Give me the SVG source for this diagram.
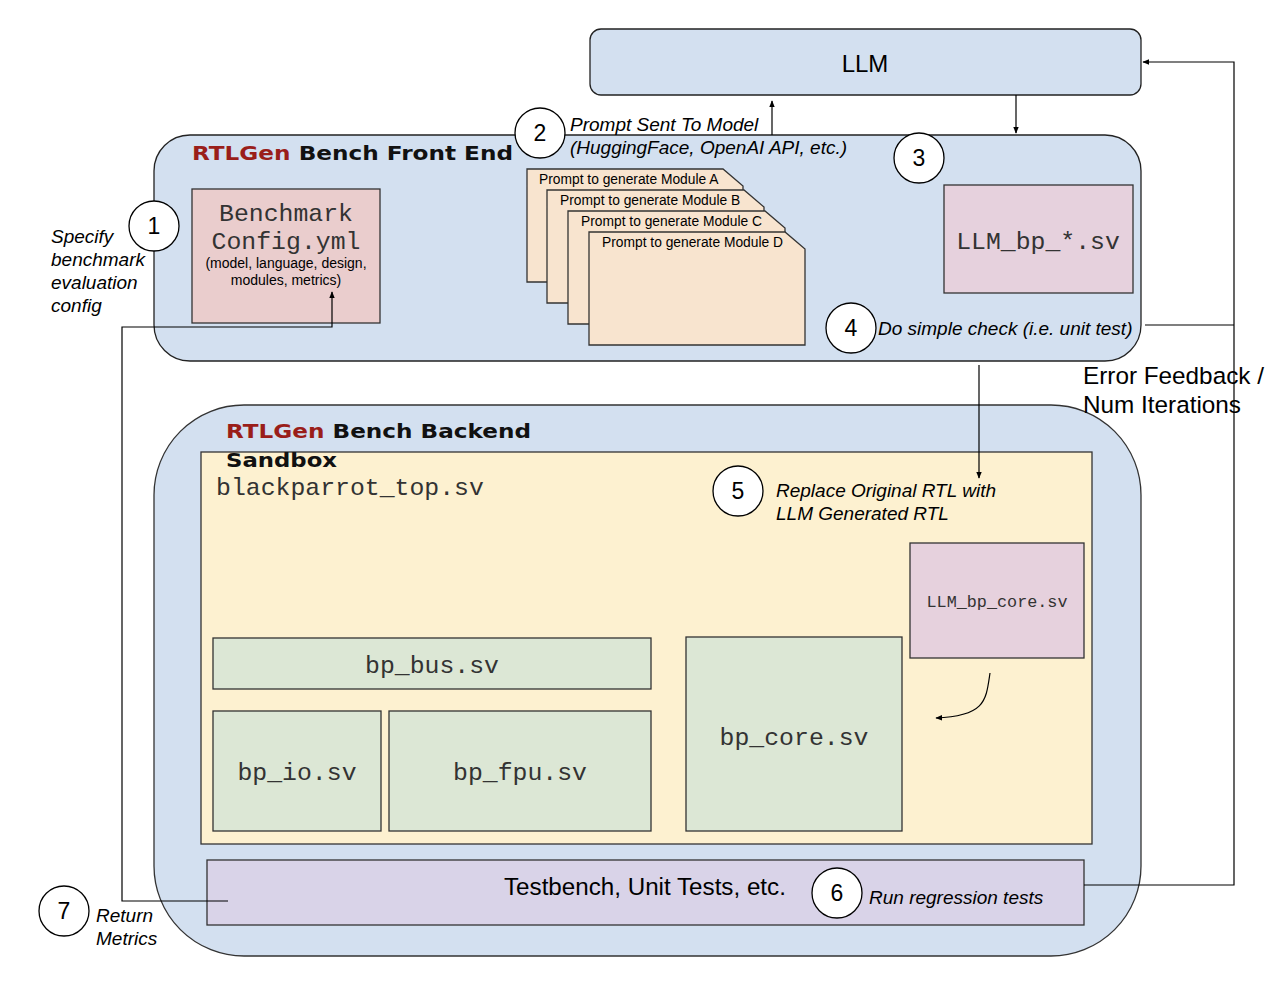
<svg xmlns="http://www.w3.org/2000/svg" width="1276" height="982" viewBox="0 0 1276 982">
<defs>
<style>
.sans{font-family:"Liberation Sans",Arial,sans-serif;fill:#000}
.it{font-family:"Liberation Sans",Arial,sans-serif;font-style:italic;fill:#000;font-size:19px}
.mono{font-family:"Liberation Mono","Courier New",monospace;fill:#333}
.title{font-family:"DejaVu Sans",sans-serif;font-weight:bold;font-size:20px;fill:#111}
.red{fill:#9a1e1a}
.num{font-family:"Liberation Sans",Arial,sans-serif;font-size:23px;text-anchor:middle;fill:#000}
.circ{fill:#fff;stroke:#000;stroke-width:1.3}
.box{stroke:#333;stroke-width:1.3}
.conn{fill:none;stroke:#000;stroke-width:1.2}
</style>
<marker id="ah" viewBox="0 0 10 10" refX="9" refY="5" markerWidth="7" markerHeight="7" orient="auto" markerUnits="userSpaceOnUse">
<path d="M0,1 L10,5 L0,9 Z" fill="#000"/>
</marker>
</defs>

<g id="llm">
<rect x="590" y="29" width="551" height="66" rx="11" fill="#d3e0f0" stroke="#222" stroke-width="1.3"/>
<text class="sans" x="865" y="72" font-size="24" text-anchor="middle">LLM</text>
</g>

<g id="frontend">
<rect x="154" y="135" width="987" height="226" rx="36" fill="#d3e0f0" stroke="#222" stroke-width="1.3"/>
<text class="title" x="192" y="160" textLength="321" lengthAdjust="spacingAndGlyphs"><tspan class="red">RTLGen</tspan> Bench Front End</text>
</g>

<g id="backend">
<rect x="154" y="405" width="987" height="551" rx="90" fill="#d3e0f0" stroke="#333" stroke-width="1.3"/>
<text class="title" x="226" y="438" textLength="305" lengthAdjust="spacingAndGlyphs"><tspan class="red">RTLGen</tspan> Bench Backend</text>
</g>

<g id="sandbox">
<rect x="201" y="452" width="891" height="392" fill="#fdf1d0" stroke="#333" stroke-width="1.3"/>
<text class="title" x="226" y="467" textLength="111" lengthAdjust="spacingAndGlyphs">Sandbox</text>
<text class="mono" x="216" y="495" font-size="24.8">blackparrot_top.sv</text>
</g>

<g id="config">
<rect class="box" x="192" y="189" width="188" height="134" fill="#eacdcd"/>
<text class="mono" x="286" y="221" font-size="24.8" text-anchor="middle">Benchmark</text>
<text class="mono" x="286" y="249" font-size="24.8" text-anchor="middle">Config.yml</text>
<text class="sans" x="286" y="268" font-size="14" text-anchor="middle">(model, language, design,</text>
<text class="sans" x="286" y="285" font-size="14" text-anchor="middle">modules, metrics)</text>
</g>

<g id="prompts">
<path class="box" d="M527,169 H723 L743,186 V282 H527 Z" fill="#f8e4cf"/>
<text class="sans" x="539" y="184" font-size="13.8">Prompt to generate Module A</text>
<path class="box" d="M547,190 H744 L764,207 V303 H547 Z" fill="#f8e4cf"/>
<text class="sans" x="560" y="205" font-size="13.8">Prompt to generate Module B</text>
<path class="box" d="M568,211 H765 L785,228 V324 H568 Z" fill="#f8e4cf"/>
<text class="sans" x="581" y="226" font-size="13.8">Prompt to generate Module C</text>
<path class="box" d="M589,232 H785 L805,249 V345 H589 Z" fill="#f8e4cf"/>
<text class="sans" x="602" y="247" font-size="13.8">Prompt to generate Module D</text>
</g>

<g id="llm_bp">
<rect class="box" x="944" y="185" width="189" height="108" fill="#e6d1dd"/>
<text class="mono" x="1038" y="249" font-size="24.8" text-anchor="middle">LLM_bp_*.sv</text>
</g>

<g id="llm_bp_core">
<rect class="box" x="910" y="543" width="174" height="115" fill="#e6d1dd"/>
<text class="mono" x="997" y="607" font-size="16.8" text-anchor="middle">LLM_bp_core.sv</text>
</g>

<g id="bp_core">
<rect class="box" x="686" y="637" width="216" height="194" fill="#dce7d5"/>
<text class="mono" x="794" y="745" font-size="24.8" text-anchor="middle">bp_core.sv</text>
</g>

<g id="bp_bus">
<rect class="box" x="213" y="638" width="438" height="51" fill="#dce7d5"/>
<text class="mono" x="432" y="673" font-size="24.8" text-anchor="middle">bp_bus.sv</text>
</g>

<g id="bp_io">
<rect class="box" x="213" y="711" width="168" height="120" fill="#dce7d5"/>
<text class="mono" x="297" y="780" font-size="24.8" text-anchor="middle">bp_io.sv</text>
</g>

<g id="bp_fpu">
<rect class="box" x="389" y="711" width="262" height="120" fill="#dce7d5"/>
<text class="mono" x="520" y="780" font-size="24.8" text-anchor="middle">bp_fpu.sv</text>
</g>

<g id="testbench">
<rect class="box" x="207" y="860" width="877" height="65" fill="#d9d3e8"/>
<text class="sans" x="504" y="895" font-size="24.2">Testbench, Unit Tests, etc.</text>
</g>

<g id="connectors">
<path class="conn" d="M772,135 V101" marker-end="url(#ah)"/>
<path class="conn" d="M1016,95 V133" marker-end="url(#ah)"/>
<path class="conn" d="M1145,325 H1234 M1084,885 H1234 V62 H1143" marker-end="url(#ah)"/>
<path class="conn" d="M979,365 V478" marker-end="url(#ah)"/>
<path class="conn" d="M990,673 C986,700 986,716 936,718" marker-end="url(#ah)"/>
<path class="conn" d="M228,901 H122 V327 H332 V292" marker-end="url(#ah)"/>
</g>

<g id="labels">
<text class="it" x="51" y="243">Specify</text>
<text class="it" x="51" y="266">benchmark</text>
<text class="it" x="51" y="289">evaluation</text>
<text class="it" x="51" y="312">config</text>
<text class="it" x="570" y="131">Prompt Sent To Model</text>
<text class="it" x="570" y="154">(HuggingFace, OpenAI API, etc.)</text>
<text class="it" x="878" y="335">Do simple check (i.e. unit test)</text>
<text class="sans" x="1083" y="384" font-size="24.3">Error Feedback /</text>
<text class="sans" x="1083" y="413" font-size="24.3">Num Iterations</text>
<text class="it" x="776" y="497">Replace Original RTL with</text>
<text class="it" x="776" y="520">LLM Generated RTL</text>
<text class="it" x="869" y="904">Run regression tests</text>
<text class="it" x="96" y="922">Return</text>
<text class="it" x="96" y="945">Metrics</text>
</g>

<g id="steps">
<circle class="circ" cx="154" cy="226" r="25"/><text class="num" x="154" y="234">1</text>
<circle class="circ" cx="540" cy="133" r="25"/><text class="num" x="540" y="141">2</text>
<circle class="circ" cx="919" cy="158" r="25"/><text class="num" x="919" y="166">3</text>
<circle class="circ" cx="851" cy="328" r="25"/><text class="num" x="851" y="336">4</text>
<circle class="circ" cx="738" cy="491" r="25"/><text class="num" x="738" y="499">5</text>
<circle class="circ" cx="837" cy="893" r="25"/><text class="num" x="837" y="901">6</text>
<circle class="circ" cx="64" cy="911" r="25"/><text class="num" x="64" y="919">7</text>
</g>
</svg>
